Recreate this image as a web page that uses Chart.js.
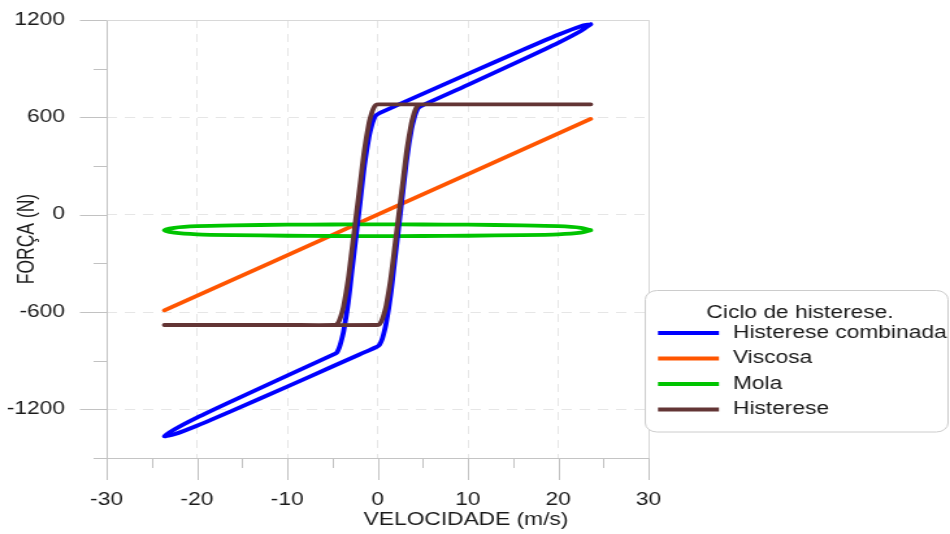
<!DOCTYPE html>
<html>
<head>
<meta charset="utf-8">
<script src="https://cdn.jsdelivr.net/npm/chart.js@4.4.0/dist/chart.umd.min.js"></script>
<style>
html, body { margin: 0; padding: 0; background: #fff; overflow: hidden; }
</style>
</head>
<body>
<!-- the reference picture is stretched sideways, so the canvas is drawn narrow and shown at 950px -->
<canvas id="canvas" width="731" height="534" style="display:block;width:950px;height:534px;"></canvas>
<script>
var xTicks = [-30, -20, -10, 0, 10, 20, 30];
var xMinorTicks = [-25, -15, -5, 5, 15, 25];
var yTicks = [-1200, -600, 0, 600, 1200];
var yMinorTicks = [-1500, -900, -300, 300, 900];

var xTitle = 'VELOCIDADE (m/s)';
var yTitle = 'FORÇA (N)';
var legendTitle = 'Ciclo de histerese.';
var seriesLabels = ['Histerese combinada', 'Viscosa', 'Mola', 'Histerese'];

// Histerese combinada
var combVel = [23.6, 22.5, 20, 16, 10, 5, 2, 0.1, -0.2, -0.45, -0.65, -0.95, -1.45, -1.9, -2.35, -2.8, -3.25, -3.75, -4.05, -4.25, -4.5, -4.8, -10, -16, -20, -22.5, -23.6,
	-22.5, -20, -16, -10, -5, -2, -0.1, 0.2, 0.45, 0.65, 0.95, 1.45, 1.9, 2.35, 2.8, 3.25, 3.75, 4.05, 4.25, 4.5, 4.8, 10, 16, 20, 22.5, 23.6];
var combForce = [1174, 1162, 1109, 1014, 868, 745, 670, 622, 611, 584, 549, 479, 304, 92, -119, -330, -541, -717, -786, -821, -849, -860, -992, -1146, -1251, -1324, -1366,
	-1354, -1301, -1206, -1060, -936, -862, -815, -803, -776, -741, -671, -496, -285, -73, 138, 349, 525, 594, 629, 657, 669, 800, 954, 1059, 1132, 1174];

// Viscosa
var viscVel = [-23.6, 0, 23.6];
var viscForce = [-590, 0, 590];

// Mola
var molaVel = [23.6, 22.5, 20, 16, 10, 5, 0, -5, -10, -16, -20, -22.5, -23.6, -22.5, -20, -16, -10, -5, 0, 5, 10, 16, 20, 22.5, 23.6];
var molaForce = [-96, -81, -71, -66, -62, -60.5, -60, -60.5, -62, -66, -71, -81, -96, -111, -121, -126, -130, -131.5, -132, -131.5, -130, -126, -121, -111, -96];

// Histerese
var histVel = [23.6, 10, 0.1, -0.2, -0.45, -0.65, -0.95, -1.45, -1.9, -2.35, -2.8, -3.25, -3.75, -4.05, -4.25, -4.5, -4.8, -10, -23.6,
	-10, -0.1, 0.2, 0.45, 0.65, 0.95, 1.45, 1.9, 2.35, 2.8, 3.25, 3.75, 4.05, 4.25, 4.5, 4.8, 10, 23.6];
var histForce = [680, 680, 680, 676, 655, 625, 563, 400, 200, 0, -200, -400, -563, -625, -655, -676, -680, -680, -680,
	-680, -680, -676, -655, -625, -563, -400, -200, 0, 200, 400, 563, 625, 655, 676, 680, 680, 680];

var fontFamily = '"Liberation Sans", Arial, sans-serif';
var textColor = '#1a1a1a';

function toPoints(vel, force){
	var pts = [];
	for(var i = 0; i < vel.length; i++){
		pts.push({x: vel[i], y: force[i]});
	}
	return pts;
}

function lineDataset(label, data, color, order){
	return {
		label: label,
		data: data,
		showLine: true,
		borderColor: color,
		backgroundColor: color,
		borderWidth: 3.8,
		pointRadius: 0,
		pointHoverRadius: 0,
		tension: 0.25,
		fill: false,
		borderJoinStyle: 'round',
		borderCapStyle: 'round',
		order: order
	};
}

// tick marks, frame, axis titles and the boxed legend
var decorPlugin = {
	id: 'decor',
	beforeDatasetsDraw: function(chart){
		var ctx = chart.ctx;
		var a = chart.chartArea;
		var x = chart.scales.x, y = chart.scales.y;
		ctx.save();
		ctx.lineWidth = 1;
		ctx.strokeStyle = '#c2c2c2';
		ctx.beginPath();
		xTicks.forEach(function(v){
			var px = Math.round(x.getPixelForValue(v)) + 0.5;
			ctx.moveTo(px, a.bottom); ctx.lineTo(px, a.bottom + 22);
		});
		xMinorTicks.forEach(function(v){
			var px = Math.round(x.getPixelForValue(v)) + 0.5;
			ctx.moveTo(px, a.bottom); ctx.lineTo(px, a.bottom + 10);
		});
		yTicks.forEach(function(v){
			var py = Math.round(y.getPixelForValue(v)) + 0.5;
			ctx.moveTo(a.left - 20.5, py); ctx.lineTo(a.left, py);
		});
		yMinorTicks.forEach(function(v){
			var py = Math.round(y.getPixelForValue(v)) + 0.5;
			ctx.moveTo(a.left - 10, py); ctx.lineTo(a.left, py);
		});
		ctx.stroke();

		var l = Math.round(a.left) + 0.5, r = Math.round(a.right) + 0.5;
		var t = Math.round(a.top) + 0.5, b = Math.round(a.bottom) + 0.5;
		ctx.strokeStyle = '#d8d8d8';
		ctx.beginPath();
		ctx.moveTo(l, t); ctx.lineTo(r, t); ctx.lineTo(r, b);
		ctx.stroke();
		ctx.strokeStyle = '#c4c4c4';
		ctx.beginPath();
		ctx.moveTo(l, t); ctx.lineTo(l, b); ctx.lineTo(r, b);
		ctx.stroke();
		ctx.restore();
	},
	afterDraw: function(chart){
		var ctx = chart.ctx;
		var a = chart.chartArea;
		ctx.save();
		ctx.fillStyle = textColor;
		ctx.font = '17.5px ' + fontFamily;
		ctx.textAlign = 'center';
		ctx.textBaseline = 'middle';
		ctx.fillText(xTitle, 358.6, 520);
		ctx.save();
		ctx.translate(20.8, (a.top + a.bottom) / 2);
		ctx.rotate(-Math.PI / 2);
		ctx.fillText(yTitle, 0, 0);
		ctx.restore();

		// legend box
		var bx = 496.5, by = 290.5, bw = 233, bh = 141.5, rad = 9;
		ctx.beginPath();
		ctx.moveTo(bx + rad, by);
		ctx.arcTo(bx + bw, by, bx + bw, by + bh, rad);
		ctx.arcTo(bx + bw, by + bh, bx, by + bh, rad);
		ctx.arcTo(bx, by + bh, bx, by, rad);
		ctx.arcTo(bx, by, bx + bw, by, rad);
		ctx.closePath();
		ctx.fillStyle = '#ffffff';
		ctx.fill();
		ctx.strokeStyle = '#cccccc';
		ctx.lineWidth = 1;
		ctx.stroke();

		ctx.fillStyle = textColor;
		ctx.font = '17.5px ' + fontFamily;
		ctx.fillText(legendTitle, 615.6, 313);
		var rows = [333, 358.5, 384, 409.5];
		ctx.textAlign = 'left';
		chart.data.datasets.forEach(function(ds, i){
			ctx.strokeStyle = ds.borderColor;
			ctx.lineWidth = 3.8;
			ctx.beginPath();
			ctx.moveTo(506.3, rows[i]); ctx.lineTo(553.2, rows[i]);
			ctx.stroke();
			ctx.fillStyle = textColor;
			ctx.fillText(ds.label, 564, rows[i]);
		});
		ctx.restore();
	}
};

function plainTick(value){
	return String(value);
}

// keep the big label padding from pushing the plot area inwards
function trimPadding(scale){
	scale.paddingTop = 10;
	scale.paddingBottom = 10;
	scale.paddingLeft = 10;
	scale.paddingRight = 10;
}

var config = {
	type: 'scatter',
	data: {
		datasets: [
			lineDataset(seriesLabels[0], toPoints(combVel, combForce), '#0000ff', 2),
			lineDataset(seriesLabels[1], toPoints(viscVel, viscForce), '#ff5500', 4),
			lineDataset(seriesLabels[2], toPoints(molaVel, molaForce), '#00c400', 3),
			lineDataset(seriesLabels[3], toPoints(histVel, histForce), '#633535', 1)
		]
	},
	options: {
		responsive: false,
		devicePixelRatio: 1,
		animation: false,
		layout: {padding: {top: 20, right: 232, bottom: 0, left: 0}},
		plugins: {
			legend: {display: false},
			tooltip: {enabled: false}
		},
		scales: {
			x: {
				type: 'linear',
				min: -30,
				max: 30,
				afterBuildTicks: function(scale){
					scale.ticks = xTicks.map(function(v){ return {value: v}; });
				},
				afterFit: function(scale){
					scale.height = 76;
					trimPadding(scale);
				},
				ticks: {
					color: textColor,
					font: {family: fontFamily, size: 17.5},
					padding: 32,
					maxRotation: 0,
					autoSkip: false,
					callback: plainTick
				},
				grid: {color: '#e6e6e6', lineWidth: 1, drawTicks: false},
				border: {display: false, dash: [8, 6]}
			},
			y: {
				type: 'linear',
				min: -1500,
				max: 1200,
				afterBuildTicks: function(scale){
					scale.ticks = yTicks.map(function(v){ return {value: v}; });
				},
				afterFit: function(scale){
					scale.width = 82;
					trimPadding(scale);
				},
				ticks: {
					color: textColor,
					font: {family: fontFamily, size: 17.5},
					padding: 32,
					autoSkip: false,
					callback: plainTick
				},
				grid: {color: '#e6e6e6', lineWidth: 1, drawTicks: false},
				border: {display: false, dash: [8, 6]}
			}
		}
	},
	plugins: [decorPlugin]
};

var ctx = document.getElementById('canvas').getContext('2d');
window.myLine = new Chart(ctx, config);
</script>
</body>
</html>
